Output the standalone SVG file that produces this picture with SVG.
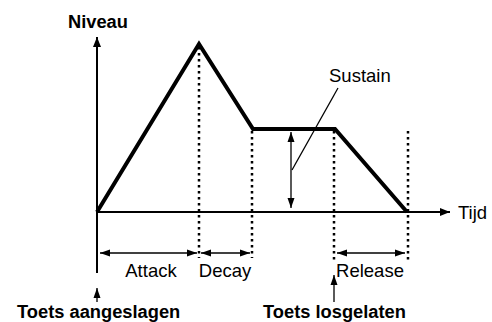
<svg xmlns="http://www.w3.org/2000/svg" width="492" height="322" viewBox="0 0 492 322">
<defs>
<style>
text{font-family:"Liberation Sans",Arial,sans-serif;fill:#000}
.lbl{font-size:18.5px}
.bold{font-size:18.3px;font-weight:bold}
.axis{stroke:#000;stroke-width:2;fill:none}
.env{stroke:#000;stroke-width:4;fill:none;stroke-linejoin:miter}
.dot{stroke:#000;stroke-width:2.5;stroke-dasharray:2.5 3.5;fill:none}
.thin{stroke:#000;stroke-width:1.3;fill:none}
</style>
<marker id="ah" viewBox="0 0 10 10" refX="10" refY="5" markerWidth="10" markerHeight="10" markerUnits="userSpaceOnUse" orient="auto-start-reverse"><path d="M0,1.5 L10,5 L0,8.5 Z" fill="#000"/></marker>
<marker id="big" viewBox="0 0 10 10" refX="10" refY="5" markerWidth="17" markerHeight="10" markerUnits="userSpaceOnUse" orient="auto"><path d="M0,1 L10,5 L0,9 Z" fill="#000"/></marker>
</defs>
<g id="connectors">
<line class="axis" x1="97" y1="273" x2="97" y2="37" marker-end="url(#big)"/>
<line class="axis" x1="97" y1="212" x2="450" y2="212" marker-end="url(#big)"/>
<line class="dot" x1="199" y1="47" x2="199" y2="258"/>
<line class="dot" x1="252" y1="131" x2="252" y2="258"/>
<line class="dot" x1="334" y1="131" x2="334" y2="262"/>
<line class="dot" x1="408" y1="131" x2="408" y2="260"/>
<polyline class="env" points="97,212 199,44 253,129 335,129 407,212"/>
<line class="thin" x1="100" y1="253" x2="197" y2="253" marker-start="url(#ah)" marker-end="url(#ah)"/>
<line class="thin" x1="201" y1="253" x2="250" y2="253" marker-start="url(#ah)" marker-end="url(#ah)"/>
<line class="thin" x1="337" y1="253" x2="405" y2="253" marker-start="url(#ah)" marker-end="url(#ah)"/>
<line class="thin" x1="291" y1="132" x2="291" y2="208" marker-start="url(#ah)" marker-end="url(#ah)"/>
<line class="thin" x1="338" y1="88" x2="292" y2="170"/>
<line class="thin" x1="97" y1="302" x2="97" y2="288" marker-end="url(#ah)"/>
<line class="thin" x1="334" y1="302" x2="334" y2="275" marker-end="url(#ah)"/>
</g>
<g id="niveau"><text class="bold" x="68" y="28">Niveau</text></g>
<g id="tijd"><text class="lbl" x="458" y="219">Tijd</text></g>
<g id="sustain"><text class="lbl" x="329" y="82">Sustain</text></g>
<g id="attack"><text class="lbl" x="151" y="277" text-anchor="middle">Attack</text></g>
<g id="decay"><text class="lbl" x="225" y="277" text-anchor="middle">Decay</text></g>
<g id="release"><text class="lbl" x="370" y="277" text-anchor="middle">Release</text></g>
<g id="toets-aangeslagen"><text class="bold" x="17" y="318">Toets aangeslagen</text></g>
<g id="toets-losgelaten"><text class="bold" x="263" y="318">Toets losgelaten</text></g>
</svg>
